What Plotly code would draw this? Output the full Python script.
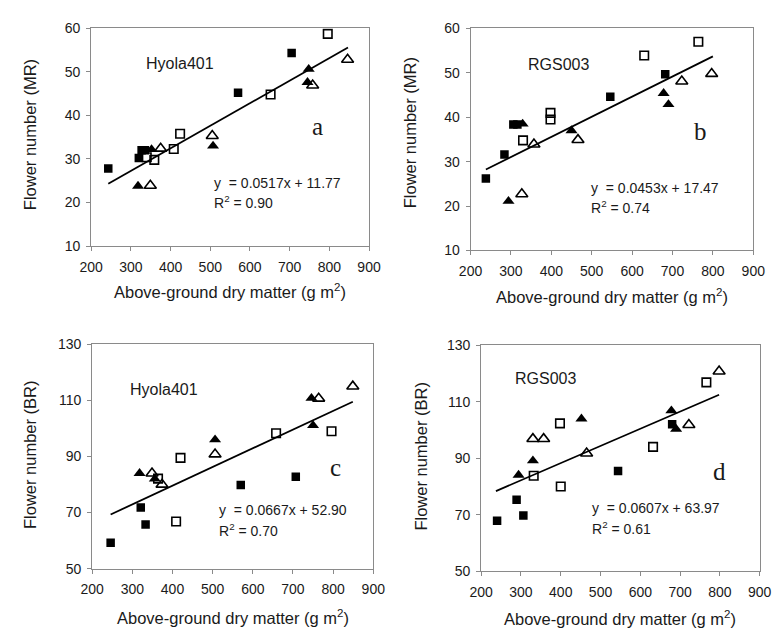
import plotly.graph_objects as go
import numpy as np

# ---------------- data ----------------
x_tick_vals = [200, 300, 400, 500, 600, 700, 800, 900]
y_ticks_mr = [10, 20, 30, 40, 50, 60]
y_ticks_br = [50, 70, 90, 110, 130]

# Panel a: Hyola401, flower number (MR)
a_fsq_x = [243, 320, 327, 335, 570, 705]
a_fsq_y = [27.8, 30.2, 32.0, 32.0, 45.2, 54.3]
a_osq_x = [340, 359, 408, 424, 652, 796]
a_osq_y = [30.4, 29.8, 32.3, 35.8, 44.8, 58.7]
a_ftr_x = [318, 352, 507, 748, 745]
a_ftr_y = [23.8, 32.2, 33.0, 50.6, 47.6]
a_otr_x = [349, 375, 505, 758, 846]
a_otr_y = [23.9, 32.4, 35.3, 46.9, 52.8]

# Panel b: RGS003, flower number (MR)
b_fsq_x = [238, 284, 306, 316, 546, 682]
b_fsq_y = [26.2, 31.6, 38.4, 38.4, 44.6, 49.7]
b_osq_x = [330, 398, 398, 630, 764]
b_osq_y = [34.8, 41.0, 39.5, 53.9, 57.0]
b_ftr_x = [294, 329, 450, 678, 690]
b_ftr_y = [21.1, 38.5, 37.0, 45.4, 42.9]
b_otr_x = [327, 357, 466, 723, 797]
b_otr_y = [22.7, 33.9, 34.9, 48.1, 49.8]

# Panel c: Hyola401, flower number (BR)
c_fsq_x = [246, 321, 333, 570, 707]
c_fsq_y = [59.2, 71.8, 65.7, 79.8, 82.8]
c_osq_x = [364, 409, 420, 658, 796]
c_osq_y = [82.1, 66.8, 89.5, 98.3, 99.0]
c_ftr_x = [318, 356, 506, 746, 750]
c_ftr_y = [84.0, 82.0, 96.0, 110.8, 101.1]
c_otr_x = [349, 374, 506, 764, 849]
c_otr_y = [84.0, 80.0, 90.8, 110.7, 115.0]

# Panel d: RGS003, flower number (BR)
d_fsq_x = [240, 289, 306, 544, 680]
d_fsq_y = [67.9, 75.3, 69.7, 85.5, 102.0]
d_osq_x = [332, 398, 400, 632, 766]
d_osq_y = [83.8, 102.3, 80.0, 94.0, 116.8]
d_ftr_x = [294, 330, 452, 678, 690]
d_ftr_y = [84.0, 89.1, 103.9, 106.8, 100.3]
d_otr_x = [330, 357, 465, 722, 798]
d_otr_y = [96.8, 96.8, 91.7, 101.8, 120.7]

# regression lines (slope, intercept, x-range)
fit_slope = [0.0517, 0.0453, 0.0667, 0.0607]
fit_intercept = [11.77, 17.47, 52.90, 63.97]
fit_xmin = [243, 238, 246, 237]
fit_xmax = [847, 800, 849, 798]
fit_r2 = ["0.90", "0.74", "0.70", "0.61"]
cultivar = ["Hyola401", "RGS003", "Hyola401", "RGS003"]
panel_letter = ["a", "b", "c", "d"]
y_titles = ["Flower number (MR)", "Flower number (MR)",
            "Flower number (BR)", "Flower number (BR)"]
x_title = "Above-ground dry matter (g m<sup>2</sup>)"

# ---------------- layout geometry (pixels) ----------------
W, H = 784, 640
frames = [  # left, right, top, bottom
    (81.7, 368.3, 20.7, 244.3),
    (473.0, 764.7, 21.0, 248.7),
    (82.7, 372.7, 345.0, 575.0),
    (484.0, 771.3, 345.7, 577.7),
]
ranges_y = [[10, 60], [10, 60], [50, 130], [50, 130]]
yticks = [y_ticks_mr, y_ticks_mr, y_ticks_br, y_ticks_br]

# text positions in data coords
cult_pos = [(424, 52.0), (418, 51.8), (379, 113.8), (362, 118.2)]
letter_pos = [(770, 37.4), (770, 36.8), (805, 85.9), (798, 85.4)]
eq_pos = [(504, 24.4, 20.1), (494, 24.0, 19.8), (511, 70.9, 63.7), (473, 72.4, 65.3)]
ytitle_px = [(18, 130), (410, 128), (18, 458), (421, 460)]
xtitle_py = [290, 295, 625, 626]

panels = [
    (a_fsq_x, a_fsq_y, a_osq_x, a_osq_y, a_ftr_x, a_ftr_y, a_otr_x, a_otr_y),
    (b_fsq_x, b_fsq_y, b_osq_x, b_osq_y, b_ftr_x, b_ftr_y, b_otr_x, b_otr_y),
    (c_fsq_x, c_fsq_y, c_osq_x, c_osq_y, c_ftr_x, c_ftr_y, c_otr_x, c_otr_y),
    (d_fsq_x, d_fsq_y, d_osq_x, d_osq_y, d_ftr_x, d_ftr_y, d_otr_x, d_otr_y),
]

FONT = "Liberation Sans, Arial, sans-serif"
SERIF = "Liberation Serif, Times New Roman, serif"
AXC = "#8a8a8a"
TXT = "#1a1a1a"

fig = go.Figure()
annotations = []
layout_axes = {}

for i, p in enumerate(panels):
    n = "" if i == 0 else str(i + 1)
    xa, ya = "x" + n, "y" + n
    fsx, fsy, osx, osy, ftx, fty, otx, oty = p
    common = dict(mode="markers", xaxis=xa, yaxis=ya, showlegend=False,
                  hoverinfo="x+y")
    fig.add_trace(go.Scatter(x=fsx, y=fsy, marker=dict(symbol="square", size=8.5, color="black",
                                                       line=dict(width=0)), **common))
    fig.add_trace(go.Scatter(x=osx, y=osy, marker=dict(symbol="square-open", size=8.5, color="black",
                                                       line=dict(width=1.6)), **common))
    fig.add_trace(go.Scatter(x=ftx, y=fty, marker=dict(symbol="triangle-up", size=10.5, color="black",
                                                       line=dict(width=0)), **common))
    fig.add_trace(go.Scatter(x=otx, y=oty, marker=dict(symbol="triangle-up-open", size=10.5, color="black",
                                                       line=dict(width=1.6)), **common))
    lx = np.array([fit_xmin[i], fit_xmax[i]], dtype=float)
    ly = fit_slope[i] * lx + fit_intercept[i]
    fig.add_trace(go.Scatter(x=lx, y=ly, mode="lines", xaxis=xa, yaxis=ya, showlegend=False,
                             line=dict(color="black", width=1.8), hoverinfo="skip"))

    l, r, t, b = frames[i]
    layout_axes["xaxis" + n] = dict(
        domain=[l / W, r / W], anchor=ya, range=[200, 900], tickvals=x_tick_vals,
        showline=True, mirror=True, linecolor=AXC, linewidth=1, ticks="outside",
        ticklen=4, tickcolor=AXC, showgrid=False, zeroline=False,
        tickfont=dict(family=FONT, size=14, color=TXT), ticklabelstandoff=4)
    layout_axes["yaxis" + n] = dict(
        domain=[1 - b / H, 1 - t / H], anchor=xa, range=ranges_y[i], tickvals=yticks[i],
        showline=True, mirror=True, linecolor=AXC, linewidth=1, ticks="outside",
        ticklen=4, tickcolor=AXC, showgrid=False, zeroline=False,
        tickfont=dict(family=FONT, size=14, color=TXT), ticklabelstandoff=3)

    annotations.append(dict(x=cult_pos[i][0], y=cult_pos[i][1], xref=xa, yref=ya,
                            xanchor="center", yanchor="middle",
                            text=cultivar[i], showarrow=False,
                            font=dict(family=FONT, size=16, color=TXT)))
    annotations.append(dict(x=letter_pos[i][0], y=letter_pos[i][1], xref=xa, yref=ya,
                            xanchor="center", yanchor="middle",
                            text=panel_letter[i], showarrow=False,
                            font=dict(family=SERIF, size=25, color=TXT)))
    annotations.append(dict(x=eq_pos[i][0], y=eq_pos[i][1], xref=xa, yref=ya,
                            xanchor="left", yanchor="middle",
                            text="y  = %.4fx + %.2f" % (fit_slope[i], fit_intercept[i]),
                            showarrow=False, font=dict(family=FONT, size=14, color=TXT)))
    annotations.append(dict(x=eq_pos[i][0], y=eq_pos[i][2], xref=xa, yref=ya,
                            xanchor="left", yanchor="middle",
                            text="R<sup>2</sup> = " + fit_r2[i],
                            showarrow=False, font=dict(family=FONT, size=14, color=TXT)))
    # axis titles
    annotations.append(dict(x=ytitle_px[i][0] / W, y=1 - ytitle_px[i][1] / H, xref="paper",
                            yref="paper", xanchor="center", yanchor="middle",
                            text=y_titles[i], textangle=-90, showarrow=False,
                            font=dict(family=FONT, size=16.5, color=TXT)))
    annotations.append(dict(x=((l + r) / 2) / W, y=1 - xtitle_py[i] / H, xref="paper",
                            yref="paper", xanchor="center", yanchor="middle",
                            text=x_title, showarrow=False,
                            font=dict(family=FONT, size=16.5, color=TXT)))

fig.update_layout(
    width=W, height=H, margin=dict(l=0, r=0, t=0, b=0),
    paper_bgcolor="white", plot_bgcolor="white",
    annotations=annotations, **layout_axes)

fig.write_html("out.html")
